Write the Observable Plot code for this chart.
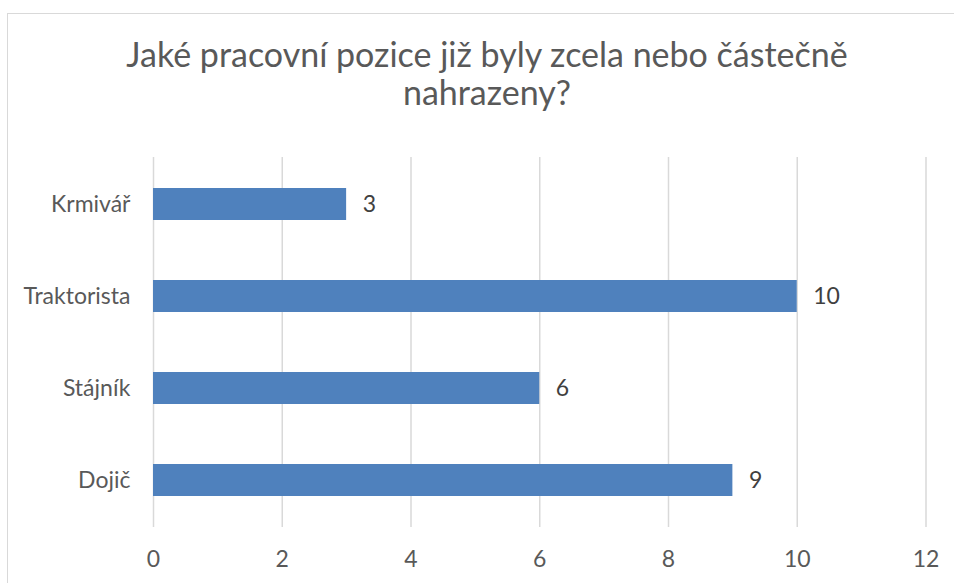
<!DOCTYPE html>
<html>
<head>
<meta charset="utf-8">
<script src="https://cdn.jsdelivr.net/npm/d3@7"></script>
<script src="https://cdn.jsdelivr.net/npm/@observablehq/plot@0.6"></script>
<style>
  html, body { margin: 0; padding: 0; background: #fff; }
  #wrap { position: relative; width: 954px; height: 583px; overflow: hidden; font-family: Lato, sans-serif; }
  #frame { position: absolute; left: 7px; top: 13px; width: 960px; height: 600px; border: 1.5px solid #d9d9d9; box-sizing: border-box; pointer-events: none; }
  #title { position: absolute; left: 0; top: 0; width: 974px; text-align: center; color: #595959; font-size: 34px; line-height: 38px; padding-top: 34.5px; }
  #chart { position: absolute; left: 0; top: 0; }
</style>
</head>
<body>
<div id="wrap">
  <div id="chart"></div>
  <div id="title">Jaké pracovní pozice již byly zcela nebo částečně<br>nahrazeny?</div>
  <div id="frame"></div>
</div>
<script>
const categories = ["Krmivář", "Traktorista", "Stájník", "Dojič"];
const values = [3, 10, 6, 9];
const xTicks = [0, 2, 4, 6, 8, 10, 12];

const data = categories.map((c, i) => ({category: c, value: values[i]}));

const chart = Plot.plot({
  width: 954,
  height: 583,
  marginLeft: 153,
  marginRight: 28.5,
  marginTop: 157,
  marginBottom: 56,
  style: {fontFamily: "Lato, sans-serif", background: "transparent"},
  x: {domain: [0, 12], ticks: xTicks, label: null},
  y: {domain: categories, paddingInner: 0.654, paddingOuter: 0.327, label: null},
  marks: [
    Plot.gridX(xTicks, {stroke: "#d9d9d9", strokeOpacity: 1, strokeWidth: 1.5}),
    Plot.barX(data, {x: "value", y: "category", fill: "#4F81BD"}),
    Plot.text(data, {x: "value", y: "category", text: d => String(d.value), textAnchor: "start", dx: 16, fontSize: 23, fill: "#404040"}),
    Plot.axisX({ticks: xTicks, tickSize: 0, tickPadding: 23, fontSize: 23, color: "#595959", label: null}),
    Plot.axisY({tickSize: 0, tickPadding: 23, fontSize: 23, color: "#595959", label: null})
  ]
});
document.getElementById("chart").appendChild(chart);
</script>
</body>
</html>
